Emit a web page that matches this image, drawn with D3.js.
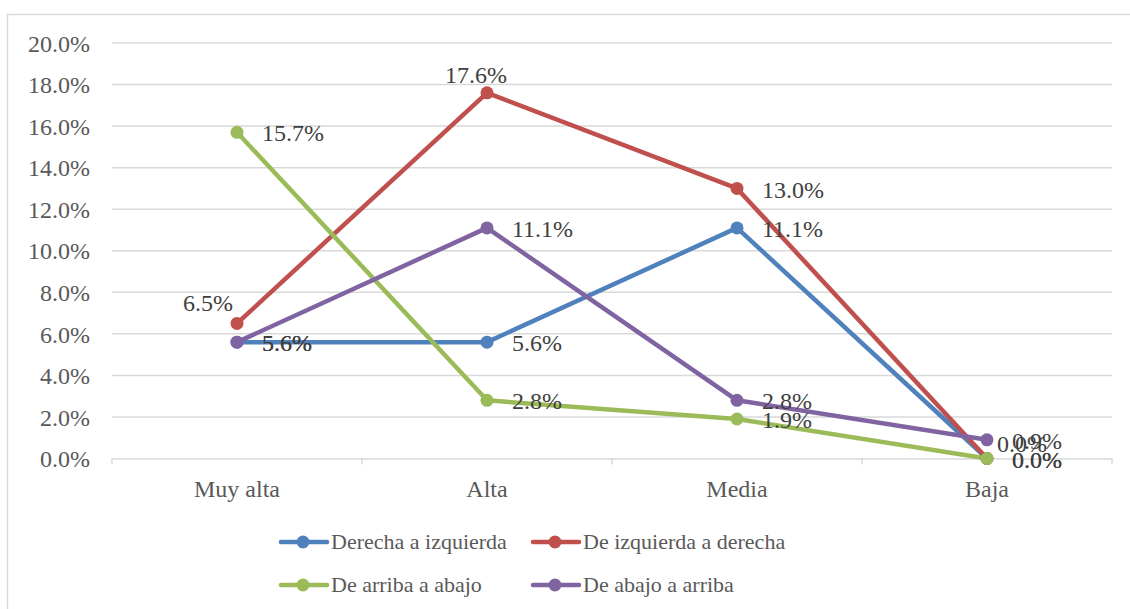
<!DOCTYPE html>
<html>
<head>
<meta charset="utf-8">
<script src="https://cdn.jsdelivr.net/npm/d3@7"></script>
<style>
  body { margin: 0; background: #fff; }
  text { font-family: "Liberation Serif", serif; }
</style>
</head>
<body>
<div id="chart"></div>
<script>
var categories = ["Muy alta", "Alta", "Media", "Baja"];
var seriesNames = ["Derecha a izquierda", "De izquierda a derecha", "De arriba a abajo", "De abajo a arriba"];
var derechaIzq = [5.6, 5.6, 11.1, 0.0];
var izqDerecha = [6.5, 17.6, 13.0, 0.0];
var arribaAbajo = [15.7, 2.8, 1.9, 0.0];
var abajoArriba = [5.6, 11.1, 2.8, 0.9];
var yTicks = [0, 2, 4, 6, 8, 10, 12, 14, 16, 18, 20];

var colors = ["#4F81BD", "#C0504D", "#9BBB59", "#8064A2"];
var series = [derechaIzq, izqDerecha, arribaAbajo, abajoArriba];

var width = 1130, height = 609;
var margin = {top: 43, left: 112, right: 18, bottom: 150};

var svg = d3.select("#chart").append("svg")
	.attr("width", width)
	.attr("height", height);

// chart border (right/bottom edges fall outside the picture)
svg.append("rect")
	.attr("x", 7.5).attr("y", 14.5)
	.attr("width", 1200).attr("height", 700)
	.attr("fill", "none")
	.attr("stroke", "#d9d9d9")
	.attr("stroke-width", 1.5);

var x = d3.scaleBand()
	.domain(categories)
	.range([margin.left, width - margin.right]);
var y = d3.scaleLinear()
	.domain([0, 20])
	.range([458.5, margin.top]);

// gridlines
svg.append("g")
	.selectAll("line")
	.data(yTicks.filter(function(d){ return d > 0; }))
	.enter().append("line")
		.attr("x1", margin.left).attr("x2", width - margin.right)
		.attr("y1", function(d){ return y(d); })
		.attr("y2", function(d){ return y(d); })
		.attr("stroke", "#d9d9d9")
		.attr("stroke-width", 1.5);

// y axis labels
var yAxis = svg.append("g")
	.attr("transform", "translate(" + margin.left + ",0)")
	.call(d3.axisLeft(y).tickValues(yTicks).tickSize(0).tickPadding(22)
		.tickFormat(function(d){ return d.toFixed(1) + "%"; }));
yAxis.select(".domain").remove();
yAxis.selectAll("text")
	.attr("fill", "#595959")
	.attr("dy", "0.34em")
	.style("font-size", "24px")
	.style("font-family", "Liberation Serif");

// x axis
var xAxis = svg.append("g")
	.attr("transform", "translate(0," + y(0) + ")")
	.call(d3.axisBottom(x).tickSize(0).tickPadding(21));
xAxis.select(".domain").attr("stroke", "#d9d9d9").attr("stroke-width", 1.5);
xAxis.selectAll("text")
	.attr("fill", "#595959")
	.style("font-size", "24px")
	.style("font-family", "Liberation Serif");
var boundaries = categories.map(function(c){ return x(c); }).concat([x.range()[1]]);
xAxis.selectAll(".bound")
	.data(boundaries)
	.enter().append("line")
		.attr("x1", function(d){ return d; })
		.attr("x2", function(d){ return d; })
		.attr("y1", 0).attr("y2", 6)
		.attr("stroke", "#d9d9d9")
		.attr("stroke-width", 1.5);

function cx(i){ return x(categories[i]) + x.bandwidth() / 2; }

var line = d3.line()
	.x(function(d, i){ return cx(i); })
	.y(function(d){ return y(d); });

// lines and markers
series.forEach(function(vals, s){
	svg.append("path")
		.datum(vals)
		.attr("d", line)
		.attr("fill", "none")
		.attr("stroke", colors[s])
		.attr("stroke-width", 4.5)
		.attr("stroke-linejoin", "round");
});
series.forEach(function(vals, s){
	svg.append("g").selectAll("circle")
		.data(vals)
		.enter().append("circle")
			.attr("cx", function(d, i){ return cx(i); })
			.attr("cy", function(d){ return y(d); })
			.attr("r", 6.5)
			.attr("fill", colors[s]);
});

// data labels: right of point by default, a few moved like in the original
var labelShift = {
	"1-0": {dx: -29, dy: -21, anchor: "middle"},
	"1-1": {dx: -11, dy: -18, anchor: "middle"},
	"1-3": {dx: 10, dy: -15, anchor: "start"}
};
series.forEach(function(vals, s){
	svg.append("g").selectAll("text")
		.data(vals)
		.enter().append("text")
			.attr("x", function(d, i){
				var o = labelShift[s + "-" + i];
				return cx(i) + (o ? o.dx : 25);
			})
			.attr("y", function(d, i){
				var o = labelShift[s + "-" + i];
				return y(d) + (o ? o.dy : 1);
			})
			.attr("text-anchor", function(d, i){
				var o = labelShift[s + "-" + i];
				return o ? o.anchor : "start";
			})
			.attr("dy", "0.34em")
			.attr("fill", "#404040")
			.style("font-size", "24px")
			.text(function(d){ return d.toFixed(1) + "%"; });
});

// legend
var legendItems = [
	{name: seriesNames[0], color: colors[0], x: 281, y: 542},
	{name: seriesNames[1], color: colors[1], x: 533, y: 542},
	{name: seriesNames[2], color: colors[2], x: 281, y: 585},
	{name: seriesNames[3], color: colors[3], x: 533, y: 585}
];
var lg = svg.append("g").selectAll("g")
	.data(legendItems)
	.enter().append("g")
		.attr("transform", function(d){ return "translate(" + d.x + "," + d.y + ")"; });
lg.append("line")
	.attr("x1", 0).attr("x2", 46)
	.attr("stroke", function(d){ return d.color; })
	.attr("stroke-width", 4.5)
	.attr("stroke-linecap", "round");
lg.append("circle")
	.attr("cx", 22).attr("r", 6.5)
	.attr("fill", function(d){ return d.color; });
lg.append("text")
	.attr("x", 50)
	.attr("dy", "0.34em")
	.attr("fill", "#595959")
	.style("font-size", "22px")
	.text(function(d){ return d.name; });
</script>
</body>
</html>
